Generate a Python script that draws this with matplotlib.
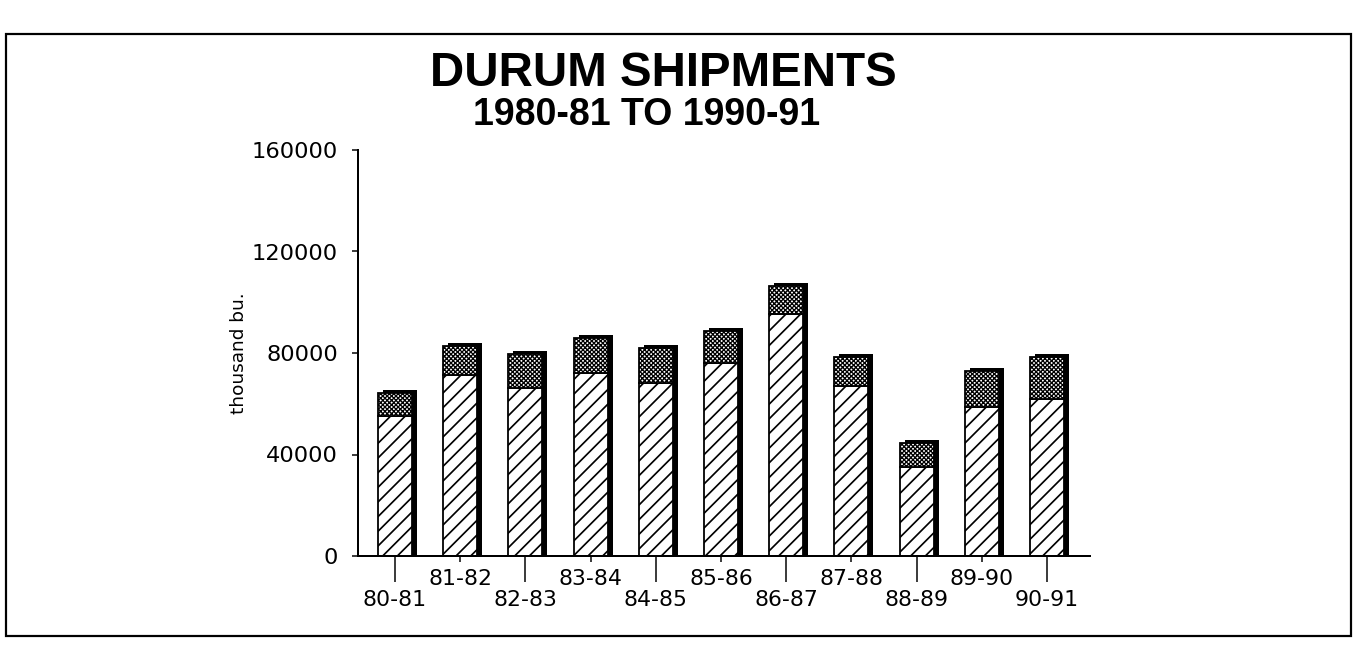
import matplotlib
matplotlib.use("Agg")
import matplotlib.pyplot as plt
from matplotlib.transforms import ScaledTranslation
from matplotlib.patches import Rectangle

# ---- data (thousand bushels) ----
seasons = ['80-81', '81-82', '82-83', '83-84', '84-85', '85-86',
           '86-87', '87-88', '88-89', '89-90', '90-91']
lower_part = [55100, 71500, 66400, 72200, 68000, 76000, 95200, 67100, 35200, 58600, 61700]
upper_part = [9200, 11100, 13400, 13700, 13800, 12500, 11100, 11200, 9400, 14400, 16800]
y_ticks = [0, 40000, 80000, 120000, 160000]
y_tick_labels = ['0', '40000', '80000', '120000', '160000']

DPI = 132
W, H = 1356, 655


def px(v):
    return v * 72.0 / DPI


plt.rcParams['hatch.linewidth'] = px(1.7)
plt.rcParams['font.family'] = ['DejaVu Sans']

fig = plt.figure(figsize=(W / DPI, H / DPI), dpi=DPI)
fig.patch.set_facecolor('white')

# outer frame
fig.add_artist(Rectangle((6 / W, 1 - 636 / H), (1351 - 6) / W, (636 - 34) / H,
                         transform=fig.transFigure, fill=False,
                         edgecolor='black', linewidth=px(2.2)))

ax = fig.add_axes([358 / W, 1 - 556 / H, (1090 - 358) / W, (556 - 150) / H])

x = list(range(len(seasons)))
totals = [a + b for a, b in zip(lower_part, upper_part)]
bw = 0.52

# shadow (3-D depth) behind bars
sh1 = ax.transData + ScaledTranslation(5 / DPI, 3 / DPI, fig.dpi_scale_trans)
sh2 = ax.transData + ScaledTranslation(5 / DPI, 0, fig.dpi_scale_trans)
ax.bar(x, totals, width=bw, color='black', edgecolor='black', linewidth=0,
       transform=sh1, clip_on=False, zorder=1)
ax.bar(x, totals, width=bw, color='black', edgecolor='black', linewidth=0,
       transform=sh2, clip_on=False, zorder=1)

# face bars
b1 = ax.bar(x, lower_part, width=bw, color='white', edgecolor='black',
            linewidth=px(1.8), hatch='///', zorder=2)
plt.rcParams['hatch.linewidth'] = px(1.3)
b2 = ax.bar(x, upper_part, bottom=lower_part, width=bw, color='white',
            edgecolor='black', linewidth=px(1.8), hatch='xxxxxxxxxx', zorder=2)
for p in b1:
    if hasattr(p, 'set_hatch_linewidth'):
        p.set_hatch_linewidth(px(1.7))
for p in b2:
    if hasattr(p, 'set_hatch_linewidth'):
        p.set_hatch_linewidth(px(1.3))

ax.set_xlim(-0.567, 10.66)
ax.set_ylim(0, 160000)

for s in ['top', 'right']:
    ax.spines[s].set_visible(False)
for s in ['left', 'bottom']:
    ax.spines[s].set_linewidth(px(2))

ax.set_yticks(y_ticks, labels=y_tick_labels)
ax.tick_params(axis='y', direction='out', length=px(6), width=px(1.5),
               pad=px(14), labelsize=px(22.5))

even = [i for i in x if i % 2 == 0]
odd = [i for i in x if i % 2 == 1]
ax.set_xticks(even, labels=[seasons[i] for i in even])
ax.set_xticks(odd, labels=[seasons[i] for i in odd], minor=True)
ax.tick_params(axis='x', which='major', direction='out', length=px(26),
               width=px(1.5), pad=px(8), labelsize=px(22))
ax.tick_params(axis='x', which='minor', direction='out', length=px(6),
               width=px(1.5), pad=px(7), labelsize=px(22))

ax.set_ylabel('thousand bu.', fontsize=px(18.5), labelpad=px(4))

fig.text(663 / W, 1 - 86 / H, 'DURUM SHIPMENTS', ha='center', va='baseline',
         fontsize=px(47.5), fontweight='bold', family=['Liberation Sans'])
fig.text(647 / W, 1 - 125 / H, '1980-81 TO 1990-91', ha='center', va='baseline',
         fontsize=px(37.5), fontweight='bold', family=['Liberation Sans'])

fig.savefig('out.png', dpi=DPI, facecolor='white')
